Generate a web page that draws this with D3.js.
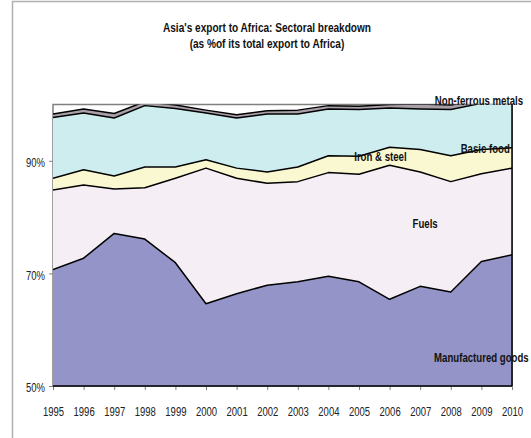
<!DOCTYPE html>
<html>
<head>
<meta charset="utf-8">
<script src="https://cdn.jsdelivr.net/npm/d3@7"></script>
<style>
  body { margin: 0; background: #fff; }
  svg text { font-family: "Liberation Sans", Arial, sans-serif; }
</style>
</head>
<body>
<svg id="chart" width="531" height="438"></svg>
<script>
// years on the x axis
const years = [1995, 1996, 1997, 1998, 1999, 2000, 2001, 2002, 2003, 2004, 2005, 2006, 2007, 2008, 2009, 2010];

// sector shares, % of total export to Africa (stacked bottom -> top)
const manufactured = [70.7, 72.7, 77.1, 76.1, 71.9, 64.6, 66.4, 67.9, 68.5, 69.5, 68.5, 65.4, 67.7, 66.7, 72.1, 73.3];
const fuels        = [14.1, 13.0, 7.9, 9.1, 15.0, 24.1, 20.5, 18.1, 17.8, 18.4, 19.1, 23.8, 20.3, 19.6, 15.6, 15.4];
const basicFood    = [2.1, 2.7, 2.3, 3.7, 2.0, 1.5, 1.8, 2.0, 2.6, 3.0, 3.2, 3.2, 4.0, 4.6, 4.3, 3.6];
const ironSteel    = [10.8, 10.1, 10.3, 10.9, 10.4, 8.3, 8.9, 10.3, 9.4, 8.3, 8.3, 7.0, 7.2, 8.2, 8.2, 8.0];
const nonFerrous   = [0.6, 0.7, 0.8, 0.7, 0.6, 0.5, 0.6, 0.6, 0.7, 0.6, 0.6, 0.6, 0.9, 0.8, 0.6, 0.6];

const seriesNames = ["Manufactured goods", "Fuels", "Basic food", "Iron & steel", "Non-ferrous metals"];
const yTicks = [50, 70, 90];

const colors = {
    "Manufactured goods": "#9494c8",
    "Fuels": "#f5eff5",
    "Basic food": "#faf8d0",
    "Iron & steel": "#cdedef",
    "Non-ferrous metals": "#a99fa9"
};

const table = years.map((yr, i) => ({
    year: yr,
    "Manufactured goods": manufactured[i],
    "Fuels": fuels[i],
    "Basic food": basicFood[i],
    "Iron & steel": ironSteel[i],
    "Non-ferrous metals": nonFerrous[i]
}));

const plot = { left: 53, right: 512, top: 104.5, bottom: 386 };

const svg = d3.select("#chart");

// squeeze text horizontally to mimic the narrow face of the original
let condense = (sel, factor) => {
    sel.each(function () {
        const len = this.getComputedTextLength();
        d3.select(this)
            .attr("textLength", len * factor)
            .attr("lengthAdjust", "spacingAndGlyphs");
    });
};

// outer chart frame (runs off the right/bottom of the picture)
svg.append("rect")
    .attr("x", 12.5).attr("y", 1.5)
    .attr("width", 540).attr("height", 460)
    .attr("fill", "none")
    .attr("stroke", "#b0b0b0")
    .attr("stroke-width", 1.5);

const x = d3.scaleLinear().domain([1995, 2010]).range([plot.left, plot.right]);
const y = d3.scaleLinear().domain([50, 100]).range([plot.bottom, plot.top]);

const stacked = d3.stack().keys(seriesNames)(table);

svg.append("clipPath").attr("id", "plotClip")
    .append("rect")
    .attr("x", plot.left).attr("y", plot.top)
    .attr("width", plot.right - plot.left)
    .attr("height", plot.bottom - plot.top);

// plot area border
svg.append("rect")
    .attr("x", plot.left).attr("y", plot.top)
    .attr("width", plot.right - plot.left)
    .attr("height", plot.bottom - plot.top)
    .attr("fill", "none")
    .attr("stroke", "#808080")
    .attr("stroke-width", 1.5);

const area = d3.area()
    .x(d => x(d.data.year))
    .y0(d => y(d[0]))
    .y1(d => y(d[1]));

const topLine = d3.line()
    .x(d => x(d.data.year))
    .y(d => y(d[1]));

const g = svg.append("g").attr("clip-path", "url(#plotClip)");

g.selectAll("path.area")
    .data(stacked)
    .join("path")
    .attr("class", "area")
    .attr("d", area)
    .attr("fill", d => colors[d.key]);

g.selectAll("path.edge")
    .data(stacked)
    .join("path")
    .attr("class", "edge")
    .attr("d", topLine)
    .attr("fill", "none")
    .attr("stroke", "#000")
    .attr("stroke-width", 1.5)
    .attr("stroke-linejoin", "round");

// right edge of the stack
svg.append("line")
    .attr("x1", plot.right).attr("x2", plot.right)
    .attr("y1", plot.top).attr("y2", plot.bottom)
    .attr("stroke", "#000").attr("stroke-width", 1.5);

// x axis
const xAxis = svg.append("g")
    .attr("transform", `translate(0,${plot.bottom})`)
    .call(d3.axisBottom(x).tickValues(years).tickFormat(d3.format("d")).tickSize(4).tickPadding(17));
xAxis.select(".domain").remove();
xAxis.selectAll(".tick line").attr("stroke", "#808080");
xAxis.selectAll("text").attr("font-size", 12.5).attr("fill", "#222").call(condense, 0.76);

svg.append("line")
    .attr("x1", plot.left).attr("x2", plot.right)
    .attr("y1", plot.bottom).attr("y2", plot.bottom)
    .attr("stroke", "#000").attr("stroke-width", 1.5);

// y axis
const yAxis = svg.append("g")
    .attr("transform", `translate(${plot.left},0)`)
    .call(d3.axisLeft(y).tickValues(yTicks).tickFormat(d => d + "%").tickSize(4).tickPadding(4));
yAxis.select(".domain").remove();
yAxis.selectAll(".tick line").attr("stroke", "#808080");
yAxis.selectAll("text").attr("font-size", 12.5).attr("fill", "#222").attr("dy", "0.45em").call(condense, 0.76);

// title
svg.selectAll("text.title")
    .data(["Asia's export to Africa: Sectoral breakdown", "(as %of its total export to Africa)"])
    .join("text")
    .attr("class", "title")
    .attr("x", 267)
    .attr("y", (d, i) => 32 + i * 16)
    .attr("text-anchor", "middle")
    .attr("font-size", 13)
    .attr("font-weight", "bold")
    .attr("fill", "#111")
    .text(d => d)
    .call(condense, 0.775);

// series labels
const labels = [
    { text: "Non-ferrous metals", year: 2008.92, value: 99.9 },
    { text: "Iron & steel", year: 2005.7, value: 90.0 },
    { text: "Basic food", year: 2009.93, value: 91.4, anchor: "end" },
    { text: "Fuels", year: 2007.16, value: 78.1 },
    { text: "Manufactured goods", year: 2009.0, value: 54.3 }
];

svg.selectAll("text.series")
    .data(labels)
    .join("text")
    .attr("class", "series")
    .attr("x", d => x(d.year))
    .attr("y", d => y(d.value))
    .attr("text-anchor", d => d.anchor || "middle")
    .attr("font-size", 12.5)
    .attr("font-weight", "bold")
    .attr("fill", "#111")
    .text(d => d.text)
    .call(condense, 0.77);
</script>
</body>
</html>
